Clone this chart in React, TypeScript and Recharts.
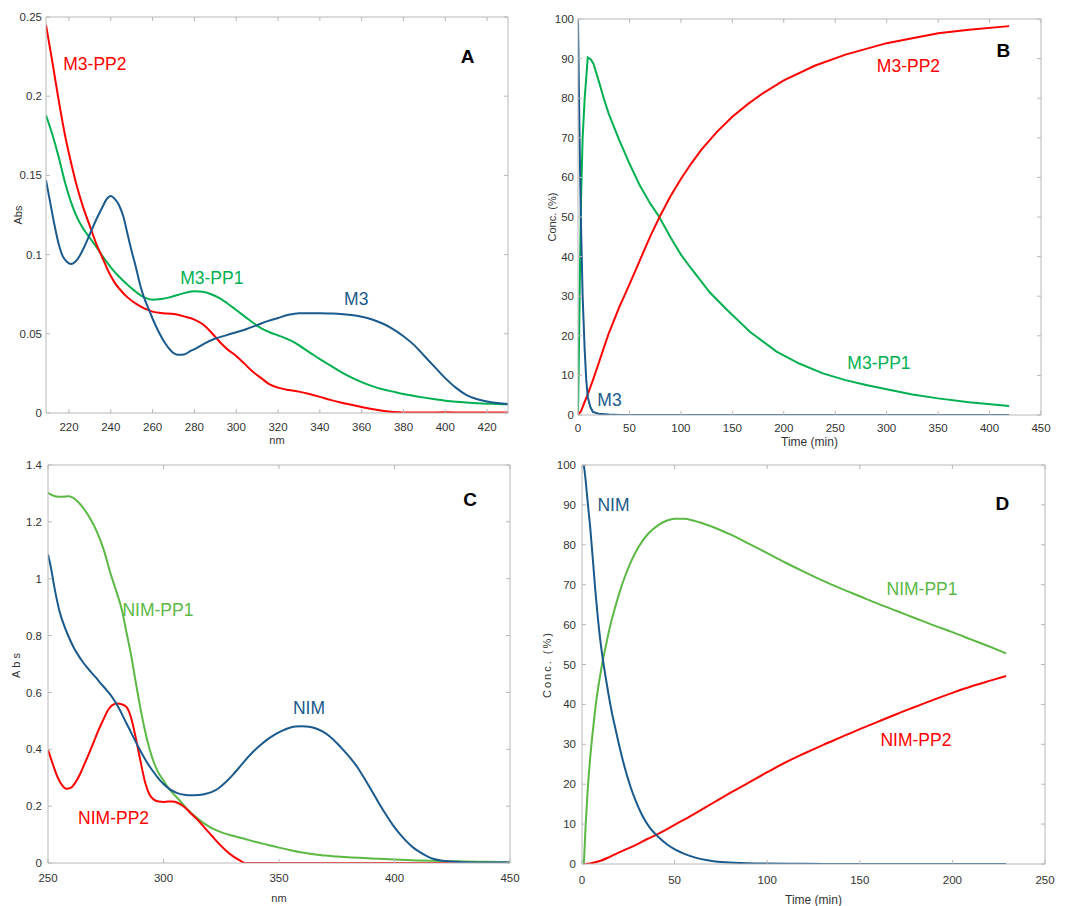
import React from 'react';
import { LineChart, Line, XAxis, YAxis, ReferenceDot } from 'recharts';

const RED = '#ff0000';
const GREEN_AB = '#00b050';
const GREEN_CD = '#5cb844';
const BLUE = '#1a5a8c';
const BOX = '#b8b8b8';
const TICK_TXT = '#333333';
const FONT = '"Liberation Sans", Arial, Helvetica, sans-serif';

// ---------- Panel A : spectra (nm, Abs) ----------
const aTicksX = [220, 240, 260, 280, 300, 320, 340, 360, 380, 400, 420];
const aTicksY = [0, 0.05, 0.1, 0.15, 0.2, 0.25];
const aM3PP2: [number, number][] = [
  [209, 0.245], [212, 0.222], [215, 0.198], [218, 0.176], [221, 0.158], [224, 0.142], [227, 0.129],
  [230, 0.118], [233, 0.107], [236, 0.098], [239, 0.089], [242, 0.082], [245, 0.077], [248, 0.073],
  [252, 0.069], [256, 0.066], [260, 0.064], [265, 0.063], [270, 0.0625], [275, 0.061], [280, 0.059],
  [284, 0.056], [288, 0.051], [292, 0.045], [296, 0.040], [300, 0.036], [304, 0.031], [308, 0.026],
  [312, 0.022], [316, 0.018], [320, 0.016], [325, 0.0145], [330, 0.0135], [335, 0.012], [340, 0.0102],
  [345, 0.0083], [350, 0.0066], [355, 0.0052], [360, 0.0038], [365, 0.0025], [370, 0.0014],
  [375, 0.0006], [380, 0.0003], [390, 0.0003], [400, 0.0004], [410, 0.0003], [420, 0.0003], [430, 0.0003],
];
const aM3PP1: [number, number][] = [
  [209, 0.188], [212, 0.176], [215, 0.162], [218, 0.146], [221, 0.133], [224, 0.123], [227, 0.116],
  [230, 0.1105], [233, 0.105], [236, 0.099], [240, 0.092], [244, 0.086], [248, 0.081], [252, 0.0765],
  [256, 0.073], [260, 0.0715], [264, 0.072], [268, 0.073], [272, 0.0745], [276, 0.076], [280, 0.0768],
  [284, 0.0765], [288, 0.075], [292, 0.0725], [296, 0.069], [300, 0.065], [304, 0.061], [308, 0.057],
  [312, 0.0535], [316, 0.051], [320, 0.049], [324, 0.047], [328, 0.0445], [332, 0.041], [336, 0.0375],
  [340, 0.034], [345, 0.030], [350, 0.026], [355, 0.0225], [360, 0.0195], [365, 0.017], [370, 0.015],
  [375, 0.0135], [380, 0.012], [385, 0.0108], [390, 0.0097], [395, 0.0087], [400, 0.0078], [405, 0.0071],
  [410, 0.0066], [415, 0.0062], [420, 0.0059], [425, 0.0057], [430, 0.0055],
];
const aM3: [number, number][] = [
  [209, 0.147], [211, 0.133], [213, 0.119], [215, 0.107], [217, 0.099], [219, 0.0955], [221, 0.094],
  [223, 0.0955], [225, 0.099], [227, 0.104], [230, 0.113], [233, 0.122], [236, 0.130], [238, 0.135],
  [240, 0.137], [242, 0.135], [244, 0.131], [246, 0.124], [248, 0.113], [250, 0.102], [252, 0.092],
  [254, 0.081], [256, 0.0725], [258, 0.066], [260, 0.0595], [263, 0.051], [266, 0.044], [269, 0.039],
  [272, 0.0368], [275, 0.037], [278, 0.039], [281, 0.041], [285, 0.044], [290, 0.047], [295, 0.049],
  [300, 0.051], [305, 0.053], [310, 0.0555], [315, 0.058], [320, 0.060], [325, 0.062], [330, 0.063],
  [335, 0.063], [340, 0.063], [345, 0.0628], [350, 0.0625], [355, 0.0618], [360, 0.0607], [365, 0.059],
  [370, 0.0565], [375, 0.053], [380, 0.0485], [385, 0.043], [390, 0.036], [395, 0.029], [400, 0.022],
  [405, 0.016], [410, 0.0115], [415, 0.0088], [420, 0.0072], [425, 0.0063], [430, 0.0057],
];

// ---------- Panel B : kinetics (min, %) ----------
const bTicksX = [0, 50, 100, 150, 200, 250, 300, 350, 400, 450];
const bTicksY = [0, 10, 20, 30, 40, 50, 60, 70, 80, 90, 100];
const bM3PP2: [number, number][] = [
  [0, 0], [3, 1], [6, 3], [10, 5.6], [15, 9.2], [20, 13], [25, 16.9], [30, 20.7], [40, 27.2], [50, 33],
  [60, 39], [70, 45], [80, 50.4], [90, 55.3], [100, 59.6], [110, 63.5], [120, 67], [135, 71.5],
  [150, 75.3], [165, 78.5], [180, 81.3], [200, 84.5], [230, 88.2], [260, 91], [300, 93.9], [330, 95.4],
  [350, 96.4], [380, 97.3], [419, 98.2],
];
const bM3PP1: [number, number][] = [
  [0, 0], [1, 18], [2, 38], [3, 55], [4.5, 70], [6.5, 80], [9.5, 90.3], [12.5, 89.8], [15, 88.7],
  [20, 84.5], [25, 80], [30, 76], [40, 69.5], [50, 63.5], [60, 58], [70, 53.5], [79, 50], [90, 44.8],
  [100, 40.5], [110, 37], [128, 31], [145, 26.5], [167, 21], [193, 16], [215, 13], [238, 10.5],
  [260, 8.8], [280, 7.6], [300, 6.5], [325, 5.2], [350, 4.2], [380, 3.2], [419, 2.3],
];
const bM3: [number, number][] = [
  [0, 100], [1, 80], [2, 62], [3, 47], [4.5, 30], [6.5, 16.4], [8, 9], [9.5, 4.5], [12, 2], [14.5, 0.8],
  [20, 0.3], [30, 0.1], [41, 0], [100, 0], [200, 0], [300, 0], [419, 0],
];

// ---------- Panel C : spectra (nm, Abs) ----------
const cTicksX = [250, 300, 350, 400, 450];
const cTicksY = [0, 0.2, 0.4, 0.6, 0.8, 1, 1.2, 1.4];
const cNIMPP1: [number, number][] = [
  [250, 1.302], [253, 1.29], [256, 1.288], [259, 1.29], [262, 1.278], [265, 1.252], [268, 1.215],
  [271, 1.168], [274, 1.105], [277, 1.02], [280, 0.945], [282, 0.89], [284, 0.81], [286, 0.73],
  [288, 0.635], [290, 0.545], [292, 0.465], [294, 0.40], [296, 0.35], [298, 0.315], [300, 0.29],
  [302, 0.265], [304, 0.246], [307, 0.22], [310, 0.192], [314, 0.162], [318, 0.137], [322, 0.118],
  [326, 0.105], [330, 0.096], [335, 0.085], [340, 0.074], [345, 0.064], [350, 0.054], [355, 0.045],
  [360, 0.037], [365, 0.031], [370, 0.026], [375, 0.023], [380, 0.02], [390, 0.016], [400, 0.012],
  [410, 0.009], [420, 0.007], [430, 0.005], [440, 0.004], [450, 0.003],
];
const cNIM: [number, number][] = [
  [250, 1.085], [251, 1.05], [253, 0.96], [255, 0.885], [257, 0.835], [259, 0.795], [261, 0.76],
  [263, 0.732], [265, 0.708], [267, 0.687], [269, 0.668], [271, 0.65], [273, 0.63], [275, 0.612],
  [277, 0.592], [279, 0.568], [281, 0.54], [283, 0.507], [285, 0.475], [287, 0.442], [289, 0.41],
  [291, 0.38], [293, 0.352], [295, 0.328], [297, 0.306], [300, 0.278], [303, 0.258], [306, 0.246],
  [309, 0.24], [312, 0.238], [315, 0.239], [318, 0.243], [321, 0.25], [324, 0.264], [327, 0.285],
  [330, 0.31], [333, 0.338], [336, 0.367], [339, 0.393], [342, 0.415], [345, 0.435], [348, 0.451],
  [351, 0.464], [354, 0.474], [357, 0.48], [360, 0.481], [363, 0.479], [366, 0.473], [369, 0.462],
  [372, 0.445], [375, 0.422], [378, 0.396], [381, 0.368], [384, 0.336], [387, 0.297], [390, 0.256],
  [393, 0.214], [396, 0.174], [399, 0.137], [402, 0.105], [405, 0.078], [408, 0.055], [411, 0.038],
  [414, 0.024], [417, 0.014], [420, 0.009], [425, 0.005], [430, 0.003], [440, 0.002], [450, 0.002],
];
const cNIMPP2: [number, number][] = [
  [250, 0.398], [252, 0.35], [254, 0.305], [256, 0.275], [258, 0.261], [260, 0.265], [262, 0.285],
  [264, 0.315], [266, 0.352], [268, 0.39], [270, 0.43], [272, 0.47], [274, 0.505], [276, 0.538],
  [278, 0.556], [280, 0.561], [282, 0.558], [284, 0.548], [286, 0.51], [288, 0.44], [290, 0.36],
  [292, 0.285], [294, 0.24], [296, 0.222], [298, 0.216], [300, 0.215], [302, 0.216], [304, 0.216],
  [306, 0.212], [308, 0.203], [310, 0.19], [312, 0.173], [315, 0.15], [318, 0.122], [321, 0.095],
  [324, 0.068], [327, 0.044], [330, 0.024], [333, 0.009], [335.5, 0], [350, 0], [400, 0], [450, 0],
];

// ---------- Panel D : kinetics (min, %) ----------
const dTicksX = [0, 50, 100, 150, 200, 250];
const dTicksY = [0, 10, 20, 30, 40, 50, 60, 70, 80, 90, 100];
const dNIM: [number, number][] = [
  [1, 100], [2, 96], [3, 91], [4.5, 84], [6, 75.5], [7.2, 68.5], [8.5, 62], [9.9, 56], [11.2, 51.5],
  [12.6, 47.3], [14.4, 42.3], [16.2, 37.8], [18, 34], [20.7, 28.5], [23, 24.3], [26.1, 19.5], [29, 15.8],
  [32.4, 12.3], [36, 9.5], [41.4, 6.7], [46, 4.9], [50.4, 3.6], [55, 2.6], [61.2, 1.6], [67, 1],
  [72, 0.65], [80, 0.35], [90, 0.18], [100, 0.1], [120, 0.04], [140, 0.01], [229, 0],
];
const dNIMPP1: [number, number][] = [
  [1, 0], [2, 10], [3, 18], [4.5, 27], [6, 34], [7.2, 39], [8.5, 43.5], [9.9, 47.5], [11.2, 51],
  [12.6, 54], [14.4, 58], [16.2, 61.5], [18, 64.5], [20.7, 68.7], [23, 71.8], [26.1, 75.4], [29, 78.2],
  [32.4, 80.8], [36, 82.9], [41.4, 85], [46, 86.1], [50, 86.5], [55, 86.5], [60, 86.1], [65, 85.4],
  [70, 84.6], [80, 82.6], [90, 80.3], [100, 77.9], [110, 75.5], [120, 73.2], [130, 71], [140, 69],
  [150, 67.1], [160, 65.2], [170, 63.4], [180, 61.6], [190, 59.8], [200, 58.1], [210, 56.3],
  [220, 54.5], [229, 52.8],
];
const dNIMPP2: [number, number][] = [
  [1, 0], [5, 0.2], [10, 0.8], [15, 1.8], [20, 2.9], [25, 3.9], [30, 5.0], [35, 6.2], [40, 7.3],
  [45, 8.5], [50, 9.8], [60, 12.4], [70, 15.1], [80, 17.8], [90, 20.4], [100, 23], [110, 25.5],
  [120, 27.7], [130, 29.8], [140, 31.8], [150, 33.8], [160, 35.7], [170, 37.6], [180, 39.4],
  [190, 41.2], [200, 42.9], [210, 44.5], [220, 45.9], [229, 47.1],
];

type Pt = [number, number];
const toPts = (arr: Pt[]) => arr.map(([x, y]) => ({ x, y }));

type Series = { data: Pt[]; color: string; curve: 'monotone' | 'linear' };
type Note = { x: number; y: number; text: string; color: string; bold?: boolean; size?: number };

type PanelProps = {
  left: number; top: number; plotW: number; plotH: number; xh: number;
  xDomain: [number, number]; yDomain: [number, number];
  xTicks: number[]; yTicks: number[];
  series: Series[]; notes: Note[];
  xTitle: string; yTitle: string;
  xTitleDy: number; yTitleDx: number; yTitleSpacing: number; xTitleSize: number;
  xTickMargin: number; yTickMargin: number;
};

const NoLabel = () => <g />;

function Panel(p: PanelProps) {
  const YW = 40;
  const MT = 9; // + 1px top axis
  const MR = 9; // + 1px right axis
  const width = YW + p.plotW + MR + 1;
  const height = MT + 1 + p.plotH + p.xh;
  const plotTop = MT + 1;
  const plotBottom = plotTop + p.plotH;
  const yMid = plotTop + p.plotH / 2;
  const xMid = YW + p.plotW / 2;
  const tickStyle = { fontSize: 11.5, fill: TICK_TXT, fontFamily: FONT };

  const yTitleContent = () => {
    const cx = YW - p.yTitleDx;
    return (
      <text
        x={cx}
        y={yMid}
        transform={`rotate(-90 ${cx} ${yMid})`}
        textAnchor="middle"
        dominantBaseline="central"
        fontSize={11}
        fill={TICK_TXT}
        fontFamily={FONT}
        letterSpacing={p.yTitleSpacing}
      >
        {p.yTitle}
      </text>
    );
  };
  const xTitleContent = () => (
    <text
      x={xMid}
      y={plotBottom + p.xTitleDy}
      textAnchor="middle"
      dominantBaseline="central"
      fontSize={p.xTitleSize}
      fill={TICK_TXT}
      fontFamily={FONT}
    >
      {p.xTitle}
    </text>
  );

  return (
    <div style={{ position: 'absolute', left: p.left, top: p.top, width, height }}>
      <LineChart width={width} height={height} margin={{ top: MT, right: MR, bottom: 0, left: 0 }}>
        <XAxis
          xAxisId="main"
          type="number"
          dataKey="x"
          domain={p.xDomain}
          ticks={p.xTicks}
          allowDataOverflow
          height={p.xh}
          tickSize={-4}
          tickMargin={p.xTickMargin}
          axisLine={{ stroke: BOX }}
          tickLine={{ stroke: BOX }}
          tick={tickStyle}
          interval={0}
          label={{ content: xTitleContent }}
        />
        <XAxis
          xAxisId="top"
          orientation="top"
          type="number"
          dataKey="x"
          domain={p.xDomain}
          ticks={p.xTicks}
          allowDataOverflow
          height={1}
          tickSize={-4}
          axisLine={{ stroke: BOX }}
          tickLine={{ stroke: BOX }}
          tick={NoLabel}
          interval={0}
        />
        <YAxis
          yAxisId="main"
          type="number"
          domain={p.yDomain}
          ticks={p.yTicks}
          allowDataOverflow
          width={YW}
          tickSize={-4}
          tickMargin={p.yTickMargin}
          axisLine={{ stroke: BOX }}
          tickLine={{ stroke: BOX }}
          tick={tickStyle}
          interval={0}
          label={{ content: yTitleContent }}
        />
        <YAxis
          yAxisId="right"
          orientation="right"
          type="number"
          domain={p.yDomain}
          ticks={p.yTicks}
          allowDataOverflow
          width={1}
          tickSize={-4}
          axisLine={{ stroke: BOX }}
          tickLine={{ stroke: BOX }}
          tick={NoLabel}
          interval={0}
        />
        {/* invisible helper so the top/right frame axes are bound to a series */}
        <Line
          xAxisId="top"
          yAxisId="right"
          data={toPts(p.series[0].data)}
          dataKey="y"
          stroke="none"
          strokeWidth={0}
          dot={false}
          activeDot={false}
          legendType="none"
          isAnimationActive={false}
        />
        {p.series.map((s, i) => (
          <Line
            key={i}
            xAxisId="main"
            yAxisId="main"
            data={toPts(s.data)}
            dataKey="y"
            type={s.curve}
            stroke={s.color}
            strokeWidth={2}
            dot={false}
            activeDot={false}
            isAnimationActive={false}
          />
        ))}
        {p.notes.map((n, i) => (
          <ReferenceDot
            key={'n' + i}
            xAxisId="main"
            yAxisId="main"
            x={n.x}
            y={n.y}
            r={0}
            fill="none"
            stroke="none"
            label={{
              value: n.text,
              position: 'center',
              fill: n.color,
              fontSize: n.size ?? 17.5,
              fontWeight: n.bold ? 'bold' : 'normal',
              fontFamily: FONT,
            }}
          />
        ))}
      </LineChart>
    </div>
  );
}

export default function App() {
  return (
    <div
      style={{
        position: 'absolute', left: 0, top: 0, width: 1069, height: 906,
        overflow: 'hidden', background: '#ffffff', fontFamily: FONT,
      }}
    >
      <Panel
        left={6} top={7} plotW={462} plotH={396} xh={36}
        xDomain={[209, 430]} yDomain={[0, 0.25]} xTicks={aTicksX} yTicks={aTicksY}
        series={[
          { data: aM3PP1, color: GREEN_AB, curve: 'monotone' },
          { data: aM3PP2, color: RED, curve: 'monotone' },
          { data: aM3, color: BLUE, curve: 'monotone' },
        ]}
        notes={[
          { x: 232.4, y: 0.2206, text: 'M3-PP2', color: RED },
          { x: 288.3, y: 0.0855, text: 'M3-PP1', color: GREEN_AB },
          { x: 357.4, y: 0.0723, text: 'M3', color: BLUE },
          { x: 410.7, y: 0.225, text: 'A', color: '#000000', bold: true, size: 19 },
        ]}
        xTitle="nm" yTitle="Abs" xTitleDy={27} yTitleDx={28} yTitleSpacing={0} xTitleSize={11}
        xTickMargin={14} yTickMargin={8}
      />
      <Panel
        left={538} top={9} plotW={463} plotH={396} xh={36}
        xDomain={[0, 450]} yDomain={[0, 100]} xTicks={bTicksX} yTicks={bTicksY}
        series={[
          { data: bM3PP1, color: GREEN_AB, curve: 'linear' },
          { data: bM3PP2, color: RED, curve: 'linear' },
          { data: bM3, color: BLUE, curve: 'linear' },
        ]}
        notes={[
          { x: 321.2, y: 88.3, text: 'M3-PP2', color: RED },
          { x: 292.5, y: 13.3, text: 'M3-PP1', color: GREEN_AB },
          { x: 30.6, y: 3.9, text: 'M3', color: BLUE },
          { x: 413.5, y: 92, text: 'B', color: '#000000', bold: true, size: 19 },
        ]}
        xTitle="Time (min)" yTitle="Conc. (%)" xTitleDy={27} yTitleDx={26} yTitleSpacing={0} xTitleSize={12}
        xTickMargin={13} yTickMargin={8}
      />
      <Panel
        left={8} top={455} plotW={462} plotH={398} xh={42}
        xDomain={[250, 450]} yDomain={[0, 1.4]} xTicks={cTicksX} yTicks={cTicksY}
        series={[
          { data: cNIMPP1, color: GREEN_CD, curve: 'monotone' },
          { data: cNIMPP2, color: RED, curve: 'monotone' },
          { data: cNIM, color: BLUE, curve: 'monotone' },
        ]}
        notes={[
          { x: 297.6, y: 0.892, text: 'NIM-PP1', color: GREEN_CD },
          { x: 363, y: 0.547, text: 'NIM', color: BLUE },
          { x: 278.4, y: 0.16, text: 'NIM-PP2', color: RED },
          { x: 432.7, y: 1.279, text: 'C', color: '#000000', bold: true, size: 19 },
        ]}
        xTitle="nm" yTitle="Abs" xTitleDy={35} yTitleDx={32} yTitleSpacing={3} xTitleSize={11}
        xTickMargin={15} yTickMargin={10}
      />
      <Panel
        left={542} top={455} plotW={463} plotH={399} xh={42}
        xDomain={[0, 250]} yDomain={[0, 100]} xTicks={dTicksX} yTicks={dTicksY}
        series={[
          { data: dNIMPP1, color: GREEN_CD, curve: 'monotone' },
          { data: dNIMPP2, color: RED, curve: 'monotone' },
          { data: dNIM, color: BLUE, curve: 'monotone' },
        ]}
        notes={[
          { x: 17, y: 90, text: 'NIM', color: BLUE },
          { x: 183.6, y: 69, text: 'NIM-PP1', color: GREEN_CD },
          { x: 180.3, y: 31.1, text: 'NIM-PP2', color: RED },
          { x: 227, y: 90.4, text: 'D', color: '#000000', bold: true, size: 19 },
        ]}
        xTitle="Time (min)" yTitle="Conc. (%)" xTitleDy={36} yTitleDx={35} yTitleSpacing={2} xTitleSize={12}
        xTickMargin={16} yTickMargin={10}
      />
    </div>
  );
}
